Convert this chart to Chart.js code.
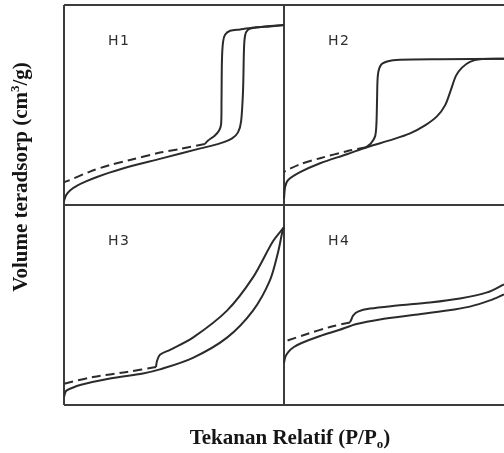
<!DOCTYPE html>
<html>
<head>
<meta charset="utf-8">
<script src="https://cdn.jsdelivr.net/npm/chart.js@4/dist/chart.umd.min.js"></script>
<style>
  html, body { margin: 0; padding: 0; background: #ffffff; overflow: hidden; }
  #wrap { position: relative; width: 504px; height: 453px; overflow: hidden; background: #fff; }
  #plot { position: absolute; left: 0; top: 0; }
  .axis-title {
    position: absolute; font-family: "Liberation Serif", "Times New Roman", serif;
    font-weight: bold; font-size: 21px; color: #151515; white-space: nowrap; line-height: 22px;
  }
  #xtitle { left: 0; width: 580px; top: 426px; text-align: center; }
  #ytitle { left: -130px; top: 166px; width: 300px; height: 22px; text-align: center; transform: rotate(-90deg); }
  sub { font-size: 13px; vertical-align: -4px; line-height: 0; }
  sup { font-size: 13px; vertical-align: 8px; line-height: 0; }
</style>
</head>
<body>
<div id="wrap">
  <canvas id="plot" width="504" height="453"></canvas>
  <div class="axis-title" id="xtitle">Tekanan Relatif (P/P<sub>o</sub>)</div>
  <div class="axis-title" id="ytitle">Volume teradsorp (cm<sup>3</sup>/g)</div>
</div>
<script>
// Hysteresis loop types H1–H4: [relative pressure P/P0, relative adsorbed volume]
// Each panel: adsorption branch, desorption branch, low-pressure dashed continuation.
const PANEL_LABELS = ['H1', 'H2', 'H3', 'H4'];

const H1_ADSORPTION = [[0,0.02],[0.01,0.05],[0.03,0.075],[0.06,0.097],[0.1,0.118],[0.15,0.14],[0.21,0.163],[0.29,0.19],[0.44,0.232],[0.62,0.283],[0.709,0.308],[0.764,0.333],[0.791,0.363],[0.805,0.418],[0.814,0.577],[0.818,0.776],[0.823,0.846],[0.836,0.876],[0.868,0.886],[0.936,0.893],[1,0.9]];
const H1_DESORPTION = [[1,0.9],[0.855,0.886],[0.8,0.878],[0.755,0.871],[0.732,0.851],[0.723,0.816],[0.718,0.726],[0.716,0.527],[0.714,0.403],[0.705,0.373],[0.686,0.348],[0.655,0.322],[0.64,0.305]];
const H1_LOW = [[0.64,0.305],[0.527,0.28],[0.436,0.262],[0.3,0.225],[0.209,0.2],[0.118,0.167],[0.014,0.119],[0,0.114]];

const H2_ADSORPTION = [[0,0.03],[0.005,0.09],[0.018,0.124],[0.073,0.164],[0.164,0.209],[0.286,0.254],[0.377,0.289],[0.495,0.328],[0.573,0.358],[0.641,0.398],[0.695,0.443],[0.732,0.498],[0.759,0.577],[0.782,0.647],[0.809,0.687],[0.845,0.716],[0.891,0.729],[1,0.731]];
const H2_DESORPTION = [[1,0.731],[0.709,0.729],[0.527,0.726],[0.473,0.719],[0.441,0.701],[0.427,0.652],[0.423,0.527],[0.42,0.403],[0.414,0.343],[0.395,0.308],[0.373,0.289]];
const H2_LOW = [[0.373,0.289],[0.286,0.269],[0.164,0.234],[0.073,0.204],[0.005,0.169],[0,0.164]];

const H3_ADSORPTION = [[0,0.04],[0.009,0.07],[0.036,0.085],[0.073,0.1],[0.209,0.132],[0.359,0.158],[0.436,0.178],[0.586,0.236],[0.741,0.337],[0.859,0.472],[0.936,0.623],[0.973,0.764],[0.995,0.879],[1,0.889]];
const H3_DESORPTION = [[1,0.889],[0.95,0.819],[0.859,0.638],[0.741,0.472],[0.586,0.337],[0.482,0.276],[0.436,0.251],[0.423,0.221],[0.418,0.19]];
const H3_LOW = [[0.418,0.19],[0.286,0.165],[0.132,0.14],[0.014,0.11],[0,0.106]];

const H4_ADSORPTION = [[0,0.21],[0.006,0.24],[0.02,0.266],[0.045,0.29],[0.08,0.31],[0.164,0.345],[0.25,0.375],[0.33,0.405],[0.436,0.428],[0.586,0.45],[0.741,0.472],[0.845,0.492],[0.936,0.523],[1,0.553]];
const H4_DESORPTION = [[1,0.603],[0.923,0.563],[0.8,0.533],[0.664,0.513],[0.514,0.497],[0.391,0.482],[0.336,0.467],[0.314,0.447],[0.305,0.425],[0.3,0.413]];
const H4_LOW = [[0.3,0.413],[0.209,0.39],[0.105,0.355],[0.014,0.322],[0,0.317]];

// Grid layout: column / row offset of each panel on the shared 0..2 axes
const PANEL_COLUMN = [0, 1, 0, 1];
const PANEL_ROW = [1, 1, 0, 0];
const PANEL_CURVES = [
  [H1_ADSORPTION, H1_DESORPTION, H1_LOW],
  [H2_ADSORPTION, H2_DESORPTION, H2_LOW],
  [H3_ADSORPTION, H3_DESORPTION, H3_LOW],
  [H4_ADSORPTION, H4_DESORPTION, H4_LOW]
];

const INK = '#2b2b2b';
const datasets = [];
PANEL_CURVES.forEach((curves, i) => {
  curves.forEach((curve, k) => {
    datasets.push({
      data: curve.map(([p, v]) => ({ x: p + PANEL_COLUMN[i], y: v + PANEL_ROW[i] })),
      showLine: true,
      borderColor: INK,
      borderWidth: 2,
      borderDash: k === 2 ? [9, 5] : [],
      pointRadius: 0,
      tension: 0.3,
      fill: false
    });
  });
});

// Type labels inside each panel
const panelLabels = {
  id: 'panelLabels',
  afterDatasetsDraw(chart) {
    const { ctx, scales } = chart;
    ctx.save();
    ctx.fillStyle = '#2e2e2e';
    ctx.font = '14px "DejaVu Sans", sans-serif';
    ctx.letterSpacing = '1.5px';
    ctx.textBaseline = 'middle';
    PANEL_LABELS.forEach((label, i) => {
      const x = scales.x.getPixelForValue(PANEL_COLUMN[i] + 0.2);
      const y = scales.y.getPixelForValue(PANEL_ROW[i] + 0.817);
      ctx.fillText(label, x, y);
    });
    ctx.restore();
  }
};

const gridColor = (c) => (c.tick && c.tick.value === 2 && c.scale.axis === 'x') ? 'rgba(0,0,0,0)' : '#3c3c3c';

new Chart(document.getElementById('plot'), {
  type: 'scatter',
  data: { datasets },
  options: {
    responsive: false,
    animation: false,
    layout: { padding: { left: 64, top: 5, right: 0, bottom: 48 } },
    plugins: { legend: { display: false }, tooltip: { enabled: false } },
    scales: {
      x: {
        type: 'linear', min: 0, max: 2,
        ticks: { display: false, stepSize: 1 },
        grid: { color: gridColor, lineWidth: 2, drawTicks: false },
        border: { display: false }
      },
      y: {
        type: 'linear', min: 0, max: 2,
        ticks: { display: false, stepSize: 1 },
        grid: { color: gridColor, lineWidth: 2, drawTicks: false },
        border: { display: false }
      }
    }
  },
  plugins: [panelLabels]
});
</script>
</body>
</html>
